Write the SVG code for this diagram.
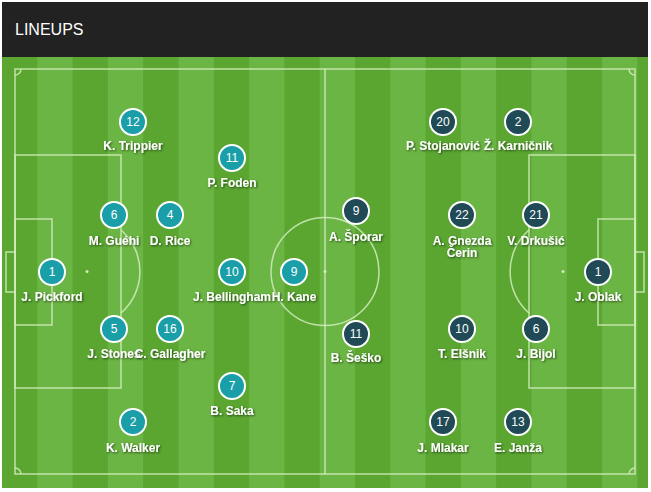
<svg xmlns="http://www.w3.org/2000/svg" width="651" height="492" viewBox="0 0 651 492">
<defs>
<style>
.title{font-family:"Liberation Sans",Arial,sans-serif;font-size:16px;fill:#fff}
.ln{fill:none;stroke:#d2ecbd;stroke-opacity:.85;stroke-width:1.5}
.dk{fill:#5aa631}
.lt{fill:#6bb544}
.eng circle{fill:#1a9ea8;stroke:#fff;stroke-width:2}
.slo circle{fill:#1f4a56;stroke:#fff;stroke-width:2}
.num{font-family:"Liberation Sans",Arial,sans-serif;font-size:12px;fill:#fff;text-anchor:middle}
.nm{font-family:"Liberation Sans",Arial,sans-serif;font-size:12px;font-weight:bold;fill:#fff;text-anchor:middle;filter:url(#sh)}
</style>
<filter id="sh" x="-20%" y="-50%" width="140%" height="200%">
<feDropShadow dx="1" dy="1" stdDeviation="0.8" flood-color="#000" flood-opacity="0.6"/>
</filter>
</defs>
<rect x="0" y="0" width="651" height="492" fill="#fff"/>
<rect x="2" y="2" width="646" height="55" fill="#222"/>
<text class="title" x="15" y="35">LINEUPS</text>
<g id="pitch">
<rect x="2" y="57" width="646" height="431" class="dk"/>
<rect x="37.3" y="57" width="35.3" height="431" class="lt"/>
<rect x="107.9" y="57" width="35.3" height="431" class="lt"/>
<rect x="178.5" y="57" width="35.3" height="431" class="lt"/>
<rect x="249.1" y="57" width="35.3" height="431" class="lt"/>
<rect x="319.7" y="57" width="35.3" height="431" class="lt"/>
<rect x="390.3" y="57" width="35.3" height="431" class="lt"/>
<rect x="460.9" y="57" width="35.3" height="431" class="lt"/>
<rect x="531.5" y="57" width="35.3" height="431" class="lt"/>
<rect x="602.1" y="57" width="35.3" height="431" class="lt"/>
<rect x="15" y="69" width="620" height="405" class="ln"/>
<line x1="325" y1="69" x2="325" y2="474" class="ln"/>
<circle cx="325" cy="271.5" r="54" class="ln"/>
<circle cx="325" cy="271.5" r="1.5" fill="#d2ecbd"/>
<rect x="15" y="155" width="106" height="233" class="ln"/>
<rect x="15" y="219" width="37" height="106" class="ln"/>
<rect x="6" y="252" width="9" height="40" class="ln"/>
<circle cx="87" cy="271.5" r="1.5" fill="#d2ecbd"/>
<path d="M121 230 A55 55 0 0 1 121 313" class="ln"/>
<rect x="529" y="155" width="106" height="233" class="ln"/>
<rect x="598" y="219" width="37" height="106" class="ln"/>
<rect x="635" y="252" width="9" height="40" class="ln"/>
<circle cx="563" cy="271.5" r="1.5" fill="#d2ecbd"/>
<path d="M529 230 A55 55 0 0 0 529 313" class="ln"/>
<path d="M15 75 A6 6 0 0 0 21 69" class="ln"/>
<path d="M629 69 A6 6 0 0 0 635 75" class="ln"/>
<path d="M15 468 A6 6 0 0 1 21 474" class="ln"/>
<path d="M629 474 A6 6 0 0 1 635 468" class="ln"/>
</g>
<g id="connectors"></g>
<g class="eng">
<g id="eng-12"><circle cx="133" cy="122" r="13"/><text class="num" x="133" y="126">12</text><text class="nm" x="133" y="150">K. Trippier</text></g>
<g id="eng-11"><circle cx="232" cy="158" r="13"/><text class="num" x="232" y="162">11</text><text class="nm" x="232" y="187">P. Foden</text></g>
<g id="eng-6"><circle cx="114" cy="215" r="13"/><text class="num" x="114" y="219">6</text><text class="nm" x="114" y="245">M. Guéhi</text></g>
<g id="eng-4"><circle cx="170" cy="215" r="13"/><text class="num" x="170" y="219">4</text><text class="nm" x="170" y="245">D. Rice</text></g>
<g id="eng-1"><circle cx="52" cy="272" r="13"/><text class="num" x="52" y="276">1</text><text class="nm" x="52" y="301">J. Pickford</text></g>
<g id="eng-10"><circle cx="232" cy="272" r="13"/><text class="num" x="232" y="276">10</text><text class="nm" x="232" y="301">J. Bellingham</text></g>
<g id="eng-9"><circle cx="294" cy="272" r="13"/><text class="num" x="294" y="276">9</text><text class="nm" x="294" y="301">H. Kane</text></g>
<g id="eng-5"><circle cx="114" cy="329" r="13"/><text class="num" x="114" y="333">5</text><text class="nm" x="114" y="358">J. Stones</text></g>
<g id="eng-16"><circle cx="170" cy="329" r="13"/><text class="num" x="170" y="333">16</text><text class="nm" x="170" y="358">C. Gallagher</text></g>
<g id="eng-7"><circle cx="232" cy="386" r="13"/><text class="num" x="232" y="390">7</text><text class="nm" x="232" y="415">B. Saka</text></g>
<g id="eng-2"><circle cx="133" cy="422" r="13"/><text class="num" x="133" y="426">2</text><text class="nm" x="133" y="452">K. Walker</text></g>
</g>
<g class="slo">
<g id="slo-20"><circle cx="443" cy="122" r="13"/><text class="num" x="443" y="126">20</text><text class="nm" x="443" y="150">P. Stojanović</text></g>
<g id="slo-2"><circle cx="518" cy="122" r="13"/><text class="num" x="518" y="126">2</text><text class="nm" x="518" y="150">Ž. Karničnik</text></g>
<g id="slo-9"><circle cx="356" cy="211" r="13"/><text class="num" x="356" y="215">9</text><text class="nm" x="356" y="241">A. Šporar</text></g>
<g id="slo-22"><circle cx="462" cy="215" r="13"/><text class="num" x="462" y="219">22</text><text class="nm" x="462" y="245">A. Gnezda</text><text class="nm" x="462" y="257">Čerin</text></g>
<g id="slo-21"><circle cx="536" cy="215" r="13"/><text class="num" x="536" y="219">21</text><text class="nm" x="536" y="245">V. Drkušić</text></g>
<g id="slo-1"><circle cx="598" cy="272" r="13"/><text class="num" x="598" y="276">1</text><text class="nm" x="598" y="301">J. Oblak</text></g>
<g id="slo-11"><circle cx="356" cy="334" r="13"/><text class="num" x="356" y="338">11</text><text class="nm" x="356" y="362">B. Šeško</text></g>
<g id="slo-10"><circle cx="462" cy="329" r="13"/><text class="num" x="462" y="333">10</text><text class="nm" x="462" y="358">T. Elšnik</text></g>
<g id="slo-6"><circle cx="536" cy="329" r="13"/><text class="num" x="536" y="333">6</text><text class="nm" x="536" y="358">J. Bijol</text></g>
<g id="slo-17"><circle cx="443" cy="422" r="13"/><text class="num" x="443" y="426">17</text><text class="nm" x="443" y="452">J. Mlakar</text></g>
<g id="slo-13"><circle cx="518" cy="422" r="13"/><text class="num" x="518" y="426">13</text><text class="nm" x="518" y="452">E. Janža</text></g>
</g>
</svg>
